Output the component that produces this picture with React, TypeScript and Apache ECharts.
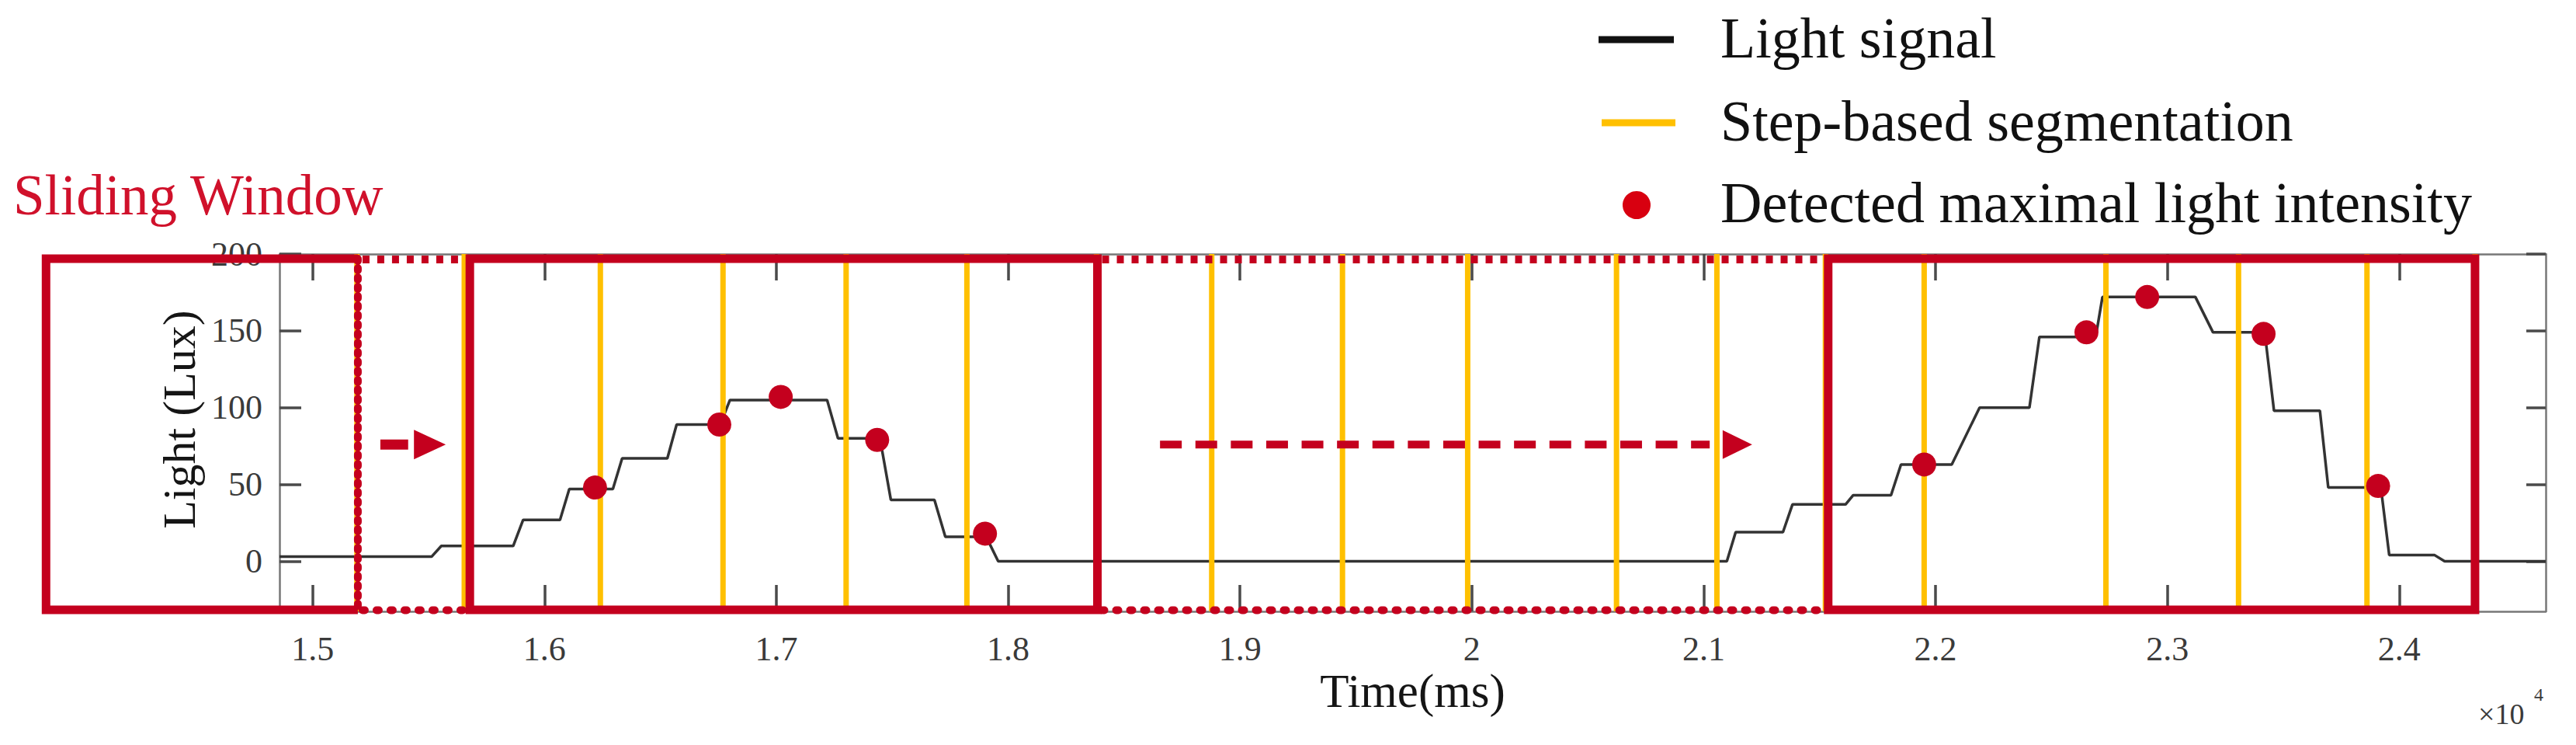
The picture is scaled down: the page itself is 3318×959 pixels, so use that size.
import React, { useEffect, useRef } from "react";
import * as echarts from "echarts";

// ---- data (time in ms, light in lux) ----
const signalTime = [
  14857, 15513, 15555, 15865, 15908, 16067, 16107, 16295, 16335, 16530, 16570, 16758,
  16800, 17219, 17266, 17447, 17494, 17682, 17729, 17905, 17957, 21100, 21138, 21342,
  21383, 21612, 21645, 21808, 21851, 22070, 22190, 22405, 22448, 22691, 22720, 23121,
  23197, 23420, 23460, 23658, 23694, 23921, 23957, 24153, 24196, 24632,
];
const signalLux = [
  3, 3, 10, 10, 27, 27, 47, 47, 67, 67, 89, 89,
  105, 105, 80, 80, 40, 40, 16, 16, 0, 0, 19, 19,
  37, 37, 43, 43, 63, 63, 100, 100, 146, 146, 172, 172,
  149, 149, 98, 98, 48, 48, 4, 4, 0, 0,
];
const segmentTime = [
  15191, 15654, 16241, 16770, 17301, 17822, 18381, 18878, 19442, 19982, 20624, 21057,
  21525, 21951, 22735, 23307, 23861, 24327,
];
const detectedTime = [16218, 16754, 17019, 17435, 17900, 21951, 22651, 22913, 23415, 23909];
const detectedLux = [48, 89, 107, 79, 18, 63, 149, 172, 148, 49];

// sliding windows (ms)
const windowStart = [13850, 15678, 21537];
const windowEnd = [15195, 18385, 24327];
const slideStart = [15195, 18385];
const slideEnd = [15678, 21537];
// arrows (ms / lux)
const arrowStart = [15292, 18655];
const arrowShaftEnd = [15412, 21026];
const arrowHeadStart = [15437, 21082];
const arrowTip = [15574, 21209];
const arrowLux = [76, 76];

const xTicks = [15000, 16000, 17000, 18000, 19000, 20000, 21000, 22000, 23000, 24000];
const yTicks = [0, 50, 100, 150, 200];

const X_MIN = 14857;
const X_MAX = 24632;
const Y_MIN = -32.6;
const Y_MAX = 200;

const RED = "#C4001E";
const YELLOW = "#FFC000";
const SERIF = "'Liberation Serif', 'Times New Roman', serif";
const AXIS_COLOR = "#777777";
const TICK_COLOR = "#4a4a4a";

export default function App() {
  const ref = useRef<HTMLDivElement>(null);

  useEffect(() => {
    document.body.style.margin = "0";
    document.body.style.overflow = "hidden";
    if (!ref.current) return;
    const chart = echarts.init(ref.current, null, { renderer: "svg" });

    const axisLine = { show: true, onZero: false, lineStyle: { color: AXIS_COLOR, width: 2.5 } };
    const xTick = {
      show: true,
      inside: true,
      length: 34,
      customValues: xTicks,
      lineStyle: { color: TICK_COLOR, width: 3.5 },
    };
    const yTick = (len: number) => ({
      show: true,
      inside: true,
      length: len,
      customValues: yTicks,
      lineStyle: { color: TICK_COLOR, width: 3.5 },
    });

    const option: any = {
      animation: false,
      backgroundColor: "#ffffff",
      grid: { left: 360, right: 39, top: 327, bottom: 172, containLabel: false },
      xAxis: [
        {
          type: "value",
          min: X_MIN,
          max: X_MAX,
          position: "bottom",
          axisLine,
          axisTick: xTick,
          axisLabel: {
            show: true,
            customValues: xTicks,
            formatter: (v: number) => String(Math.round(v / 1000) / 10),
            fontFamily: SERIF,
            fontSize: 44,
            color: "#3a3a3a",
            margin: 26,
          },
          splitLine: { show: false },
          name: "Time(ms)",
          nameLocation: "middle",
          nameGap: 72,
          nameTextStyle: { fontFamily: SERIF, fontSize: 61, color: "#151515" },
        },
        {
          type: "value",
          min: X_MIN,
          max: X_MAX,
          position: "top",
          axisLine,
          axisTick: xTick,
          axisLabel: { show: false },
          splitLine: { show: false },
        },
      ],
      yAxis: [
        {
          type: "value",
          min: Y_MIN,
          max: Y_MAX,
          position: "left",
          axisLine,
          axisTick: yTick(28),
          axisLabel: {
            show: true,
            customValues: yTicks,
            fontFamily: SERIF,
            fontSize: 44,
            color: "#3a3a3a",
            margin: 22,
          },
          splitLine: { show: false },
          name: "Light (Lux)",
          nameLocation: "middle",
          nameGap: 97,
          nameRotate: 90,
          nameTextStyle: { fontFamily: SERIF, fontSize: 60, color: "#151515", padding: [0, 0, 0, 34] },
        },
        {
          type: "value",
          min: Y_MIN,
          max: Y_MAX,
          position: "right",
          axisLine,
          axisTick: yTick(25),
          axisLabel: { show: false },
          splitLine: { show: false },
        },
      ],
      series: [
        {
          name: "Light signal",
          type: "line",
          data: signalTime.map((t, i) => [t, signalLux[i]]),
          showSymbol: false,
          symbol: "none",
          lineStyle: { color: "#333333", width: 3.5 },
          z: 2,
        },
        {
          name: "Step-based segmentation",
          type: "custom",
          data: segmentTime.map((t) => [t, 0]),
          encode: { x: 0, y: 1 },
          z: 3,
          renderItem: (params: any, api: any) => {
            const t = api.value(0);
            const pTop = api.coord([t, Y_MAX]);
            const pBot = api.coord([t, Y_MIN]);
            return {
              type: "line",
              shape: { x1: pTop[0], y1: pTop[1], x2: pBot[0], y2: pBot[1] },
              style: { stroke: YELLOW, lineWidth: 7, fill: "none" },
            };
          },
        },
        {
          name: "Sliding window",
          type: "custom",
          data: windowStart.map((s, i) => [s, windowEnd[i], 0]),
          encode: { x: [0, 1], y: 2 },
          clip: false,
          z: 4,
          renderItem: (params: any, api: any) => {
            const i = params.dataIndex;
            const a = api.coord([api.value(0), Y_MAX]);
            const b = api.coord([api.value(1), Y_MIN]);
            const x0 = a[0];
            const x1 = b[0];
            const top = a[1] + 6;
            const bottom = b[1] - 2;
            if (i === 0) {
              return {
                type: "group",
                children: [
                  {
                    type: "polyline",
                    shape: { points: [[x1, top], [x0, top], [x0, bottom], [x1, bottom]] },
                    style: { stroke: RED, lineWidth: 11, fill: "none", lineJoin: "miter" },
                  },
                  {
                    type: "line",
                    shape: { x1: x1, y1: top, x2: x1, y2: bottom },
                    style: { stroke: RED, lineWidth: 10, lineDash: [3, 9], lineCap: "round", fill: "none" },
                  },
                ],
              };
            }
            return {
              type: "rect",
              shape: { x: x0, y: top, width: x1 - x0, height: bottom - top },
              style: { stroke: RED, lineWidth: 11, fill: "none", lineJoin: "miter" },
            };
          },
        },
        {
          name: "Slide",
          type: "custom",
          data: slideStart.map((s, i) => [s, slideEnd[i], 0]),
          encode: { x: [0, 1], y: 2 },
          clip: false,
          z: 4,
          renderItem: (params: any, api: any) => {
            const a = api.coord([api.value(0), Y_MAX]);
            const b = api.coord([api.value(1), Y_MIN]);
            const top = a[1] + 7;
            const bottom = b[1] - 1.5;
            return {
              type: "group",
              children: [
                {
                  type: "line",
                  shape: { x1: a[0] + 6, y1: top, x2: b[0] - 6, y2: top },
                  style: { stroke: RED, lineWidth: 10, lineDash: [9, 10], fill: "none" },
                },
                {
                  type: "line",
                  shape: { x1: a[0] + 6, y1: bottom, x2: b[0] - 6, y2: bottom },
                  style: { stroke: RED, lineWidth: 10, lineDash: [3, 15], lineCap: "round", fill: "none" },
                },
              ],
            };
          },
        },
        {
          name: "Arrows",
          type: "custom",
          data: arrowStart.map((s, i) => [s, arrowShaftEnd[i], arrowHeadStart[i], arrowTip[i], arrowLux[i]]),
          encode: { x: [0, 1, 2, 3], y: 4 },
          clip: false,
          z: 4,
          renderItem: (params: any, api: any) => {
            const i = params.dataIndex;
            const v = api.value(4);
            const p0 = api.coord([api.value(0), v]);
            const p1 = api.coord([api.value(1), v]);
            const ph = api.coord([api.value(2), v]);
            const pt = api.coord([api.value(3), v]);
            const half = i === 0 ? 19 : 18.5;
            return {
              type: "group",
              children: [
                {
                  type: "line",
                  shape: { x1: p0[0], y1: p0[1], x2: p1[0], y2: p1[1] },
                  style:
                    i === 0
                      ? { stroke: RED, lineWidth: 13, fill: "none" }
                      : { stroke: RED, lineWidth: 10, lineDash: [28, 17.6], fill: "none" },
                },
                {
                  type: "polygon",
                  shape: { points: [[ph[0], ph[1] - half], [pt[0], pt[1]], [ph[0], ph[1] + half]] },
                  style: { fill: RED, stroke: "none" },
                },
              ],
            };
          },
        },
        {
          name: "Detected maximal light intensity",
          type: "scatter",
          data: detectedTime.map((t, i) => [t, detectedLux[i]]),
          symbol: "circle",
          symbolSize: 31,
          itemStyle: { color: RED, opacity: 1 },
          z: 5,
        },
      ],
      graphic: [
        {
          type: "text",
          left: 17,
          top: 215,
          style: { text: "Sliding Window", font: `73px ${SERIF}`, fill: "#D0112B" },
        },
        {
          type: "line",
          shape: { x1: 2059, y1: 51, x2: 2156, y2: 51 },
          style: { stroke: "#111111", lineWidth: 9 },
        },
        {
          type: "line",
          shape: { x1: 2063, y1: 158, x2: 2158, y2: 158 },
          style: { stroke: YELLOW, lineWidth: 9 },
        },
        {
          type: "circle",
          shape: { cx: 2108, cy: 264, r: 18 },
          style: { fill: "#D80010" },
        },
        {
          type: "text",
          x: 2216,
          y: 49,
          style: { text: "Light signal", font: `74px ${SERIF}`, fill: "#111111", verticalAlign: "middle" },
        },
        {
          type: "text",
          x: 2216,
          y: 156,
          style: { text: "Step-based segmentation", font: `74px ${SERIF}`, fill: "#111111", verticalAlign: "middle" },
        },
        {
          type: "text",
          x: 2216,
          y: 261,
          style: {
            text: "Detected maximal light intensity",
            font: `74px ${SERIF}`,
            fill: "#111111",
            verticalAlign: "middle",
          },
        },
        {
          type: "text",
          x: 3192,
          y: 919,
          style: { text: "×10", font: `38px ${SERIF}`, fill: "#3a3a3a", verticalAlign: "middle" },
        },
        {
          type: "text",
          x: 3264,
          y: 894,
          style: { text: "4", font: `24px ${SERIF}`, fill: "#3a3a3a", verticalAlign: "middle" },
        },
      ],
    };

    chart.setOption(option);
    return () => chart.dispose();
  }, []);

  return <div ref={ref} style={{ width: 3318, height: 959 }} />;
}
